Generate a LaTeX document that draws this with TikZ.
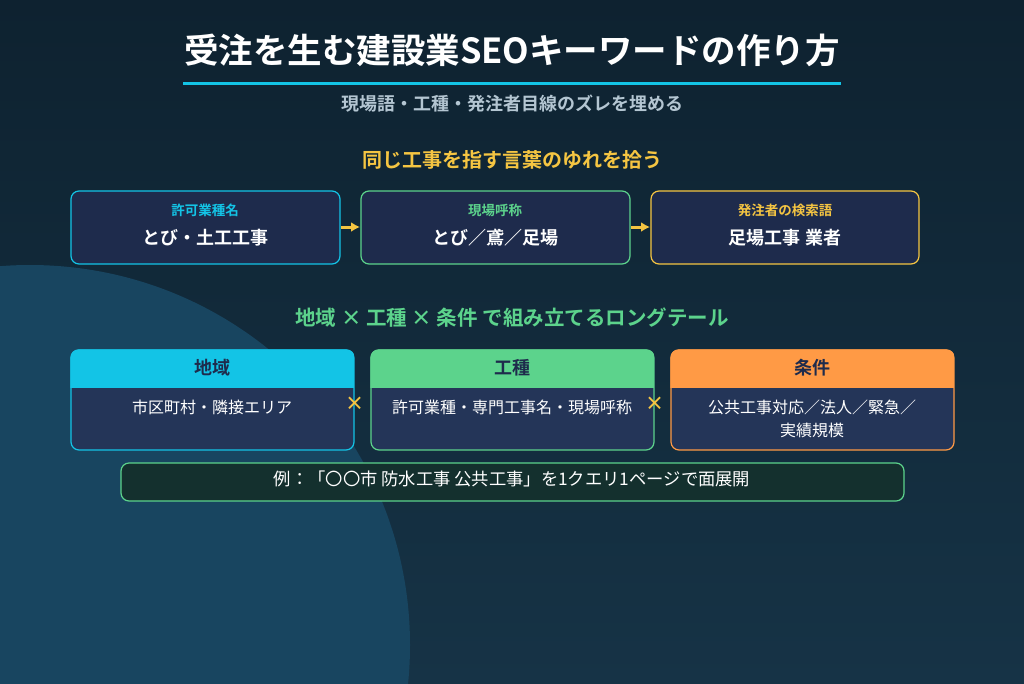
\documentclass[tikz,border=0pt]{standalone}
\usepackage{fontspec}
\newfontfamily\jp{Noto Sans CJK JP}[BoldFont={Noto Sans CJK JP Bold}]
\definecolor{bgA}{HTML}{0E2230}
\definecolor{bgB}{HTML}{163346}
\definecolor{circ}{HTML}{184560}
\definecolor{cy}{HTML}{13C4E6}
\definecolor{gr}{HTML}{5CD38C}
\definecolor{ye}{HTML}{F5C542}
\definecolor{og}{HTML}{FF9A45}
\definecolor{box}{HTML}{1E2B4C}
\definecolor{box2}{HTML}{243558}
\definecolor{sub}{HTML}{B4C6D2}
\definecolor{ex}{HTML}{14302E}
\tikzset{
 card/.style={draw=#1,line width=1.2pt,fill=box,rounded corners=8pt},
 lbl/.style={font=\jp\bfseries\fontsize{13.5}{15}\selectfont},
 main/.style={font=\jp\bfseries\fontsize{18}{20}\selectfont,text=white},
 hd/.style={font=\jp\bfseries\fontsize{18}{20}\selectfont,text=box},
 body/.style={font=\jp\fontsize{16}{23}\selectfont,text=white,align=center},
 sec/.style={font=\jp\bfseries\fontsize{20.5}{24}\selectfont},
 tipc/.style={-{Latex[length=9pt,width=10pt]},ye,line width=3pt},
 times/.style={font=\jp\bfseries\fontsize{19}{22}\selectfont,text=ye}
}
\usetikzlibrary{arrows.meta}
\begin{document}
\begin{tikzpicture}[x=1pt,y=-1pt]
\useasboundingbox (0,0) rectangle (1024,683);
\shade[top color=bgA,bottom color=bgB] (0,0) rectangle (1024,683);
\begin{scope}
\clip (0,0) rectangle (1024,683);
\fill[circ] (30,645) circle (380);
\end{scope}
\node[font=\jp\bfseries\fontsize{34.5}{38}\selectfont,text=white] (title) at (512,50) {受注を生む建設業SEOキーワードの作り方};
\draw[cy,line width=3pt] (183,83) -- (841,83);
\node[font=\jp\bfseries\fontsize{18}{20}\selectfont,text=sub] (subt) at (512,104) {現場語・工種・発注者目線のズレを埋める};
\node[sec,font=\jp\bfseries\fontsize{20}{24}\selectfont,text=ye] (s1) at (512,160) {同じ工事を指す言葉のゆれを拾う};
% row 1
\draw[card=cy] (71,191) rectangle (340,264);
\node[lbl,text=cy] (l1) at (205,210) {許可業種名};
\node[main] (m1) at (205,238) {とび・土工工事};
\draw[card=gr] (361,191) rectangle (630,264);
\node[lbl,text=gr] (l2) at (495,210) {現場呼称};
\node[main] (m2) at (495,238) {とび／鳶／足場};
\draw[card=ye] (651,191) rectangle (919,264);
\node[lbl,text=ye] (l3) at (785,210) {発注者の検索語};
\node[main] (m3) at (785,238) {足場工事 業者};
\coordinate (a1) at (341,227); \coordinate (b1) at (360,227);
\coordinate (a2) at (631,227); \coordinate (b2) at (650,227);
\draw[tipc] (a1) -- (b1);
\draw[tipc] (a2) -- (b2);
\node[sec,text=gr] (s2) at (512,318) {地域 × 工種 × 条件 で組み立てるロングテール};
% row 2
\foreach \x/\c/\h/\n in {71/cy/地域/r1,371/gr/工種/r2,671/og/条件/r3}{
 \draw[draw=\c,line width=1.2pt,fill=box2,rounded corners=8pt] (\x,350) rectangle (\x+283,450);
 \begin{scope}
 \clip[rounded corners=8pt] (\x-0.6,349.4) rectangle (\x+283.6,450.6);
 \fill[\c] (\x-0.6,349.4) rectangle (\x+283.6,388);
 \end{scope}
 \node[hd] (\n) at (\x+141.5,368) {\h};
}
\node[body] (t1) at (212,407) {市区町村・隣接エリア};
\node[body] (t2) at (512,407) {許可業種・専門工事名・現場呼称};
\node[body] (t3) at (812,419) {公共工事対応／法人／緊急／\\実績規模};
\node[times] (x1) at (355,404) {×};
\node[times] (x2) at (655,404) {×};
\draw[draw=gr,line width=1.2pt,fill=ex,rounded corners=8pt] (121,463) rectangle (904,501);
\node[body,font=\jp\fontsize{17.3}{20}\selectfont] (ex) at (512,479) {例：「〇〇市 防水工事 公共工事」を1クエリ1ページで面展開};
\end{tikzpicture}
\end{document}
